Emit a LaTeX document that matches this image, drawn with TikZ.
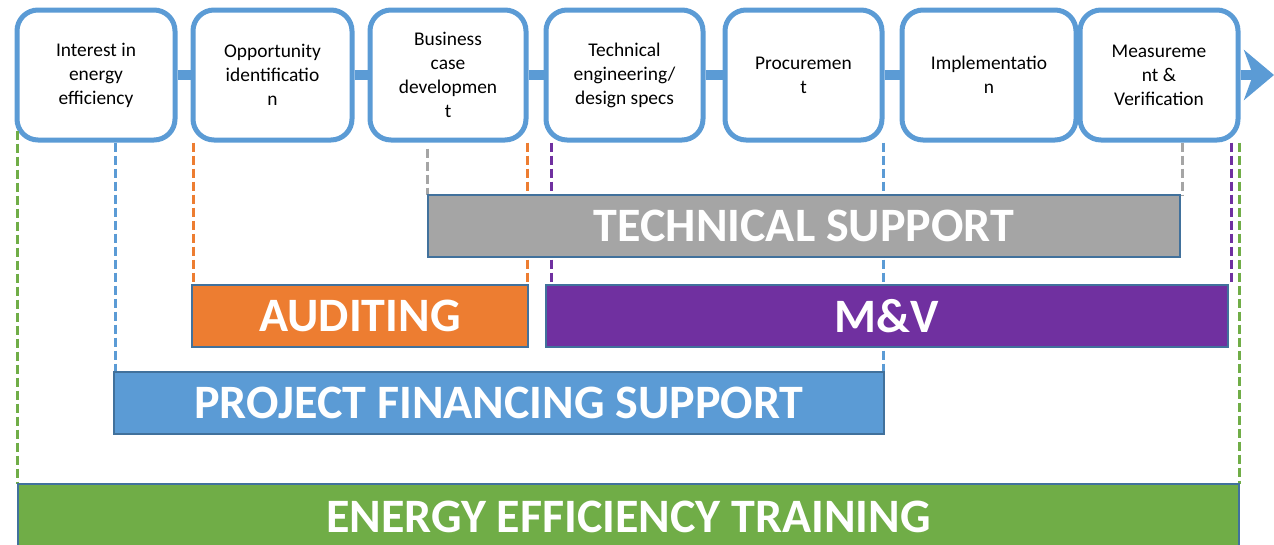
\documentclass[tikz,border=0pt]{standalone}
\usepackage{fontspec}
\setmainfont{Carlito}
\usetikzlibrary{arrows.meta}
\definecolor{eblue}{HTML}{5B9BD5}
\definecolor{eorange}{HTML}{ED7D31}
\definecolor{egray}{HTML}{A5A5A5}
\definecolor{egreen}{HTML}{70AD47}
\definecolor{epurple}{HTML}{7030A0}
\definecolor{eborder}{HTML}{41719C}
\tikzset{
  stepbox/.style={draw=eblue, line width=5pt, rounded corners=21pt, fill=white,
    minimum height=130pt, align=center, font=\fontsize{19.4}{24}\selectfont, inner sep=0pt},
  conn/.style={draw=eblue, line width=10pt},
  bar/.style={draw=eborder, line width=1.5pt, text=white, inner sep=0pt,
    font=\fontsize{48}{50}\selectfont\bfseries},
  dsh/.style={line width=3pt, dash pattern=on 9pt off 4pt}
}
\begin{document}
\begin{tikzpicture}[x=1pt,y=-1pt]
\useasboundingbox (0,0) rectangle (1274,544);
% process steps
\node[stepbox, minimum width=158pt] (b1) at (96,75) {Interest in\\energy\\efficiency};
\node[stepbox, minimum width=159pt] (b2) at (272.5,75) {Opportunity\\identificatio\\n};
\node[stepbox, minimum width=156pt] (b3) at (448,75) {Business\\case\\developmen\\t};
\node[stepbox, minimum width=157pt] (b4) at (624.5,75) {Technical\\engineering/\\design specs};
\node[stepbox, minimum width=157pt] (b5) at (803.5,75) {Procuremen\\t};
\node[stepbox, minimum width=174pt] (b6) at (989,75) {Implementatio\\n};
\node[stepbox, minimum width=158pt] (b7) at (1159,75) {Measureme\\nt \&\\Verification};
\coordinate (tip) at (1274,75);
\draw[conn] (b1) -- (b2);
\draw[conn] (b2) -- (b3);
\draw[conn] (b3) -- (b4);
\draw[conn] (b4) -- (b5);
\draw[conn] (b5) -- (b6);
\draw[conn, -{Stealth[length=30pt, width=50pt, inset=9pt]}] (b7) -- (tip);
% support bars (positions only; drawn later on top)
\path node[minimum width=752pt, minimum height=62pt, inner sep=0pt] (tech) at (804,226) {};
\path node[minimum width=336pt, minimum height=62pt, inner sep=0pt] (aud) at (360,316) {};
\path node[minimum width=682pt, minimum height=62pt, inner sep=0pt] (mv) at (887,316) {};
\path node[minimum width=770pt, minimum height=62pt, inner sep=0pt] (fin) at (499,403) {};
\path node[minimum width=1221pt, minimum height=66pt, inner sep=0pt] (train) at (628.5,517) {};
% dashed guides
\draw[dsh, egreen] ([yshift=12pt]b1.south west -| train.north west) -- (train.north west);
\draw[dsh, egreen] (train.north east |- b7.south) -- (train.north east);
\draw[dsh, eblue] ([xshift=2pt]fin.north west |- b1.south) -- ([xshift=2pt]fin.north west);
\draw[dsh, eblue] ([xshift=-1pt]fin.north east |- b5.south) -- ([xshift=-1pt]fin.north east);
\draw[dsh, eorange] ([xshift=2pt]aud.north west |- b2.south) -- ([xshift=2pt]aud.north west);
\draw[dsh, eorange] ([xshift=-1pt]aud.north east |- b3.south) -- ([xshift=-1pt]aud.north east);
\draw[dsh, egray] ([yshift=-6pt]tech.north west |- b3.south) -- (tech.north west);
\draw[dsh, egray] ([xshift=2pt]tech.north east |- b7.south) -- ([xshift=2pt]tech.north east);
\draw[dsh, epurple] ([xshift=6pt]mv.north west |- b4.south) -- ([xshift=6pt]mv.north west);
\draw[dsh, epurple] ([xshift=3pt]mv.north east |- b7.south) -- ([xshift=3pt]mv.north east);
% bars
\node[bar, fill=egray, minimum width=752pt, minimum height=62pt] at (tech) {TECHNICAL SUPPORT};
\node[bar, fill=eorange, minimum width=336pt, minimum height=62pt] at (aud) {AUDITING};
\node[bar, fill=epurple, minimum width=682pt, minimum height=62pt] at (mv) {M\&V};
\node[bar, fill=eblue, minimum width=770pt, minimum height=62pt] at (fin) {PROJECT FINANCING SUPPORT};
\node[bar, fill=egreen, minimum width=1221pt, minimum height=66pt] at (train) {ENERGY EFFICIENCY TRAINING};
\end{tikzpicture}
\end{document}
